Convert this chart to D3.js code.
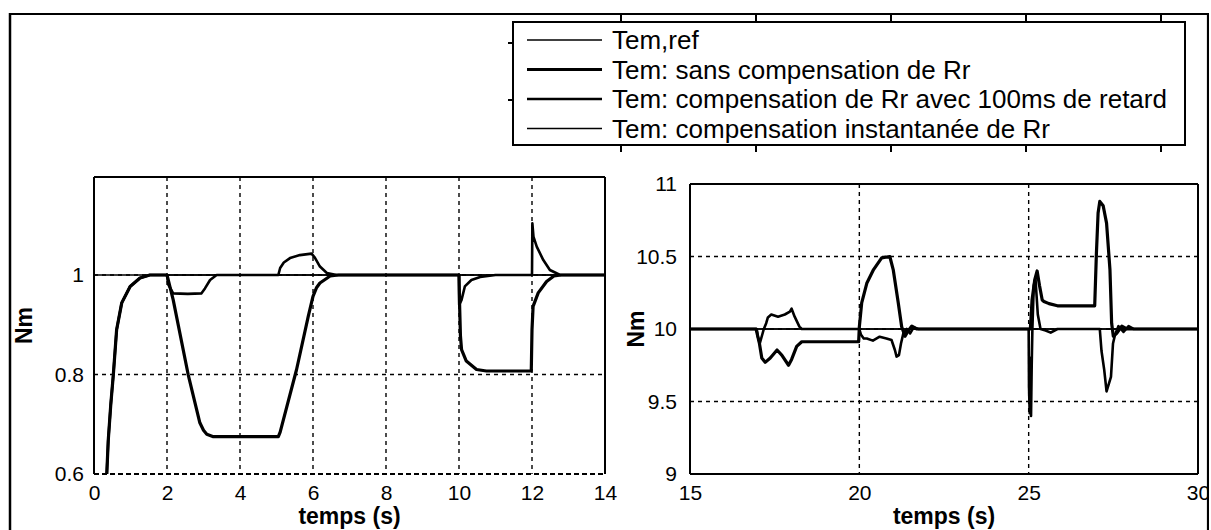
<!DOCTYPE html>
<html><head><meta charset="utf-8">
<script src="https://cdn.jsdelivr.net/npm/d3@7/dist/d3.min.js"></script>
<style>
html,body{margin:0;padding:0;background:#fff;}
svg{display:block;}
text{font-family:"Liberation Sans",Arial,sans-serif;fill:#000;}
</style></head>
<body>
<svg id="chart" width="1211" height="530"></svg>
<script>
// ---------- DATA ----------
const legendLabels = [
  "Tem,ref",
  "Tem: sans compensation de Rr",
  "Tem: compensation de Rr avec 100ms de retard",
  "Tem: compensation instantanée de Rr"
];
const xLabel = "temps (s)";
const yLabel = "Nm";

// Left panel (0 - 14 s)
const leftXTicks = [0, 2, 4, 6, 8, 10, 12, 14];
const leftYTicks = [0.6, 0.8, 1];
const leftYTickLabels = ["0.6", "0.8", "1"];
const startup = [[0.28,0.0],[0.33,0.55],[0.35,0.6],[0.39,0.667],[0.46,0.74],[0.53,0.8],[0.62,0.89],[0.76,0.944],[0.99,0.977],[1.26,0.994],[1.53,1.0]];
const leftRef = [[0,1],[14,1]];
const leftSans = [[2,1],[2.17,0.95],[2.58,0.8],[2.9,0.703],[3.0,0.688],[3.09,0.68],[3.27,0.675],[5.05,0.675],[5.1,0.684],[5.55,0.81],[5.87,0.917],[6.0,0.957],[6.1,0.975],[6.19,0.984],[6.47,0.998],[6.7,1],
  [10,1],[10.02,0.93],[10.04,0.877],[10.07,0.85],[10.2,0.827],[10.48,0.81],[10.75,0.807],[11.98,0.807],[12.0,0.89],[12.03,0.937],[12.17,0.964],[12.4,0.987],[12.6,0.998],[12.8,1],[14,1]];
const leftDelay = [[2,1],[2.04,0.98],[2.17,0.963],[2.57,0.962],[2.94,0.963],[3.04,0.973],[3.18,0.99],[3.36,1.0],
  [5.05,1.0],[5.1,1.014],[5.2,1.025],[5.37,1.034],[5.64,1.04],[5.96,1.043],[6.05,1.035],[6.19,1.017],[6.38,1.004],[6.65,1.0],
  [10,1],[10.005,0.94],[10.07,0.95],[10.16,0.977],[10.34,0.99],[10.58,0.996],[11,1],
  [12,1],[12.01,1.104],[12.04,1.077],[12.13,1.057],[12.31,1.03],[12.49,1.01],[12.77,1.0],[14,1]];
const leftInst = [[2,1],[14,1]];

// Right panel (15 - 30 s)
const rightXTicks = [15, 20, 25, 30];
const rightYTicks = [9, 9.5, 10, 10.5, 11];
const rightYTickLabels = ["9", "9.5", "10", "10.5", "11"];
const rightRef = [[15,10],[30,10]];
const rightSans = [[15,10],[16.95,10],[17.05,9.9],[17.12,9.8],[17.22,9.77],[17.37,9.8],[17.57,9.855],[17.71,9.82],[17.91,9.75],[18.0,9.79],[18.15,9.88],[18.3,9.912],[19.98,9.912],
  [20.0,10.015],[20.07,10.18],[20.22,10.315],[20.42,10.41],[20.66,10.49],[20.9,10.5],[21.0,10.41],[21.15,10.18],[21.25,10.015],[21.35,9.95],[21.45,9.99],[21.55,10.02],[21.7,10],
  [25.05,10],[25.1,10.2],[25.18,10.34],[25.25,10.4],[25.32,10.3],[25.4,10.2],[25.45,10.19],[25.6,10.175],[25.85,10.16],[26.95,10.16],
  [27.0,10.52],[27.05,10.8],[27.1,10.88],[27.2,10.85],[27.3,10.73],[27.4,10.41],[27.45,10.04],[27.5,9.95],[27.6,9.97],[27.75,10.02],[27.9,10],[30,10]];
const rightDelay = [[15,10],[16.97,10],[17.0,9.95],[17.06,9.9],[17.12,9.95],[17.18,10.0],[17.25,10.04],[17.3,10.08],[17.4,10.1],[17.6,10.085],[17.8,10.1],[17.95,10.12],[18.0,10.14],[18.09,10.085],[18.23,10.016],[18.3,10.0],
  [20.0,10],[20.05,9.96],[20.13,9.935],[20.22,9.935],[20.4,9.92],[20.6,9.947],[20.8,9.935],[20.95,9.924],[21.05,9.855],[21.1,9.81],[21.17,9.82],[21.23,9.9],[21.3,9.97],[21.4,10.0],[21.5,9.97],[21.6,10.01],[21.75,10],
  [25.0,10],[25.01,9.6],[25.03,9.42],[25.05,9.8],[25.07,9.4],[25.09,9.75],[25.11,10.0],[25.15,10.3],[25.2,10.35],[25.27,10.1],[25.35,10.0],[25.5,9.99],[25.65,9.975],[25.85,10.0],
  [27.1,10],[27.15,9.85],[27.23,9.72],[27.3,9.57],[27.43,9.67],[27.49,9.9],[27.55,9.96],[27.65,10.02],[27.8,9.98],[27.95,10.02],[28.1,10],[30,10]];
const rightInst = [[15,10],[30,10]];

// Ghost axis ticks (remnant of a hidden axis behind the legend)
const ghostTicks = [0, 1, 2, 3, 4];

// ---------- DRAW ----------
const svg = d3.select("#chart");
svg.append("rect").attr("width",1211).attr("height",530).attr("fill","#fff");
const defs = svg.append("defs");

const FONT_TICK = 21;

function panel(cfg){
  const x = d3.scaleLinear().domain(cfg.xd).range([cfg.x0, cfg.x1]);
  const y = d3.scaleLinear().domain(cfg.yd).range([cfg.y1, cfg.y0]);
  const g = svg.append("g");
  const clipId = "clip" + cfg.id;
  defs.append("clipPath").attr("id", clipId).append("rect")
    .attr("x", cfg.x0).attr("y", cfg.y0).attr("width", cfg.x1-cfg.x0).attr("height", cfg.y1-cfg.y0);

  // grid
  const grid = g.append("g").attr("stroke","#000").attr("stroke-width",1.4).attr("stroke-dasharray","4,4").attr("fill","none");
  cfg.xGrid.forEach(v => grid.append("line").attr("x1",x(v)).attr("x2",x(v)).attr("y1",cfg.y0).attr("y2",cfg.y1));
  cfg.yGrid.forEach(v => grid.append("line").attr("y1",y(v)).attr("y2",y(v)).attr("x1",cfg.x0).attr("x2",cfg.x1));

  // box
  const box = g.append("g").attr("stroke","#000").attr("stroke-width",2).attr("fill","none");
  box.append("line").attr("x1",cfg.x0).attr("x2",cfg.x1).attr("y1",cfg.y0).attr("y2",cfg.y0);
  box.append("line").attr("x1",cfg.x0).attr("x2",cfg.x0).attr("y1",cfg.y0).attr("y2",cfg.y1);
  box.append("line").attr("x1",cfg.x1).attr("x2",cfg.x1).attr("y1",cfg.y0).attr("y2",cfg.y1);
  const bottom = box.append("line").attr("x1",cfg.x0).attr("x2",cfg.x1).attr("y1",cfg.y1).attr("y2",cfg.y1);
  if (cfg.dashedBottom) bottom.attr("stroke-dasharray","5,3").attr("stroke-width",2.2);

  // series
  const line = d3.line().x(d => x(d[0])).y(d => y(d[1]));
  const lg = g.append("g").attr("clip-path", `url(#${clipId})`).attr("fill","none").attr("stroke","#000")
    .attr("stroke-linejoin","round");
  cfg.series.forEach(s => {
    lg.append("path").attr("d", line(s.data)).attr("stroke-width", s.w);
  });

  // axes (labels only)
  const ax = g.append("g").attr("transform",`translate(0,${cfg.y1})`)
    .call(d3.axisBottom(x).tickValues(cfg.xTicks).tickFormat(d3.format("d")).tickSize(0).tickPadding(11));
  ax.select(".domain").remove();
  ax.selectAll("text").attr("font-size",FONT_TICK).attr("font-family","Liberation Sans, Arial, sans-serif");
  const ay = g.append("g").attr("transform",`translate(${cfg.x0},0)`)
    .call(d3.axisLeft(y).tickValues(cfg.yTicks).tickFormat((d,i)=>cfg.yTickLabels[i]).tickSize(0).tickPadding(cfg.yPad));
  ay.select(".domain").remove();
  ay.selectAll("text").attr("font-size",FONT_TICK).attr("font-family","Liberation Sans, Arial, sans-serif");

  // axis titles
  g.append("text").attr("x",(cfg.x0+cfg.x1)/2).attr("y",cfg.y1+50).attr("text-anchor","middle")
    .attr("font-size",23).attr("font-weight","bold").text(xLabel);
  g.append("text").attr("transform",`translate(${cfg.ylx},${(cfg.y0+cfg.y1)/2}) rotate(-90)`)
    .attr("text-anchor","middle").attr("dy","0.35em").attr("font-size",23).attr("font-weight","bold").text(yLabel);
}

const W = {sans:3.2, delay:2.6, inst:1.5, ref:1.5};

panel({
  id:"L", x0:94, x1:605, y0:177, y1:474, xd:[0,14], yd:[0.6,1.197],
  xTicks:leftXTicks, yTicks:leftYTicks, yTickLabels:leftYTickLabels, yPad:10,
  xGrid:[2,4,6,8,10,12], yGrid:[0.8,1], dashedBottom:true, ylx:24,
  series:[
    {data:leftRef, w:W.ref},
    {data:startup.concat(leftInst), w:W.inst},
    {data:startup.concat(leftSans), w:W.sans},
    {data:startup.concat(leftDelay), w:W.delay}
  ]
});

panel({
  id:"R", x0:690, x1:1198, y0:184, y1:474, xd:[15,30], yd:[9,11],
  xTicks:rightXTicks, yTicks:rightYTicks, yTickLabels:rightYTickLabels, yPad:13,
  xGrid:[20,25], yGrid:[9.5,10,10.5], dashedBottom:false, ylx:636,
  series:[
    {data:rightRef, w:W.ref},
    {data:rightInst, w:W.inst},
    {data:rightSans, w:W.sans},
    {data:rightDelay, w:W.delay}
  ]
});

// Legend box
const LX0 = 513, LX1 = 1185, LY0 = 22, LY1 = 145;
// ghost axis ticks along top frame and below legend
const gx = d3.scaleLinear().domain([0,4]).range([621,1161]);
const gt = svg.append("g").attr("stroke","#000").attr("stroke-width",2);
ghostTicks.forEach(t => {
  gt.append("line").attr("x1",gx(t)).attr("x2",gx(t)).attr("y1",14).attr("y2",21);
  gt.append("line").attr("x1",gx(t)).attr("x2",gx(t)).attr("y1",LY1).attr("y2",LY1+7);
});
[43,100].forEach(yy => gt.append("line").attr("x1",LX0-5).attr("x2",LX0).attr("y1",yy).attr("y2",yy));

const leg = svg.append("g");
leg.append("rect").attr("x",LX0).attr("y",LY0).attr("width",LX1-LX0).attr("height",LY1-LY0)
  .attr("fill","#fff").attr("stroke","#000").attr("stroke-width",2);
const legW = [W.ref, W.sans, W.delay, W.inst];
const rowY = [40, 69.5, 99, 128.5];
legendLabels.forEach((lab,i) => {
  leg.append("line").attr("x1",527).attr("x2",602).attr("y1",rowY[i]).attr("y2",rowY[i])
    .attr("stroke","#000").attr("stroke-width",legW[i]);
  leg.append("text").attr("x",612).attr("y",rowY[i]).attr("dy","0.36em").attr("font-size",26).text(lab);
});

// Outer frame
const frame = svg.append("g").attr("stroke","#000").attr("fill","none");
frame.append("line").attr("x1",9).attr("x2",1208).attr("y1",14).attr("y2",14).attr("stroke-width",2.2);
frame.append("line").attr("x1",10).attr("x2",10).attr("y1",13).attr("y2",530).attr("stroke-width",2.5);
svg.append("rect").attr("x",1209).attr("y",0).attr("width",2).attr("height",530).attr("fill","#fff");
frame.append("line").attr("x1",1208).attr("x2",1208).attr("y1",13).attr("y2",530).attr("stroke-width",2.2);
</script>
</body></html>
